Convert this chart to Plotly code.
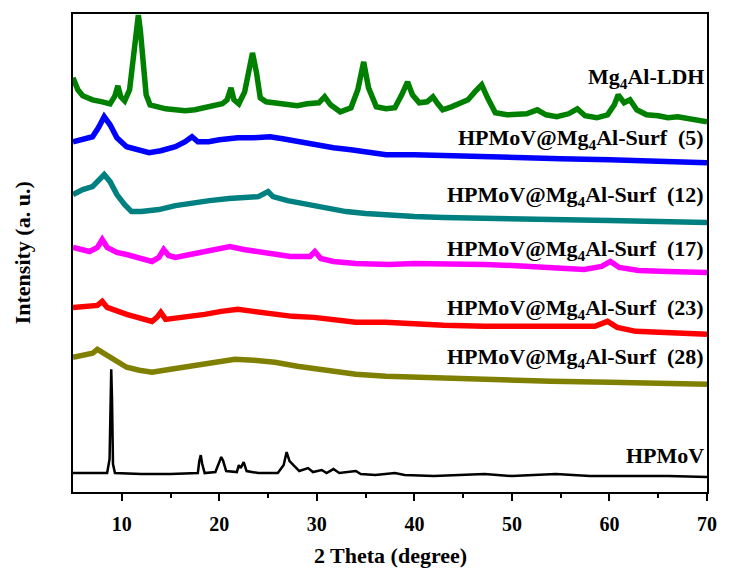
import plotly.graph_objects as go

# ---- data (2 Theta in degrees, intensity in arbitrary units incl. stacking offset) ----
ldh_x = [5.0, 5.5, 6.0, 7.0, 8.0, 8.8, 9.3, 9.6, 9.9, 10.3, 10.8, 11.2, 11.5, 11.7, 11.9, 12.2, 12.5, 12.9,
         13.5, 14.5, 15.5, 16.5, 17.5, 18.5, 19.5, 20.3, 20.8, 21.2, 21.5, 22.0, 22.6, 23.0, 23.4, 23.8,
         24.2, 24.8, 26.0, 27.0, 28.0, 29.0, 30.2, 30.8, 31.4, 32.4, 33.5, 34.2, 34.8, 35.3, 36.1, 37.1,
         38.0, 38.7, 39.3, 39.8, 40.5, 41.3, 41.9, 42.4, 42.9, 43.8, 44.8, 45.5, 46.2, 46.9, 47.5, 48.3,
         49.5, 50.5, 51.5, 52.6, 53.5, 54.6, 55.8, 56.7, 57.5, 58.7, 59.8, 60.5, 60.9, 61.5, 62.1, 62.8,
         63.8, 65.0, 66.0, 67.0, 68.0, 69.0, 70.0]
ldh_y = [415, 403, 397, 393, 391, 389, 397, 407, 396, 392, 403, 433, 463, 478, 463, 423, 398, 388,
         386, 384, 383, 382, 383, 385, 387, 389, 393, 405, 393, 389, 401, 421, 440, 421,
         395, 391, 390, 389, 387, 389, 390, 396, 388, 381, 385, 403, 431, 405, 386, 384,
         385, 398, 411, 398, 390, 391, 396, 389, 383, 386, 390, 393, 401, 408, 395, 380,
         378, 379, 379, 383, 378, 376, 379, 384, 377, 375, 378, 388, 398, 390, 393, 383,
         378, 377, 375, 376, 374, 372, 371]

s5_x = [5.0, 6.0, 7.0, 7.6, 8.2, 8.8, 9.5, 10.5, 11.5, 12.8, 14.0, 15.5, 16.5, 17.2, 17.8, 18.9, 20.0,
        21.9, 23.5, 25.2, 26.5, 28.0, 30.0, 31.7, 33.5, 35.8, 37.1, 40.0, 43.0, 47.2, 51.0, 55.0, 60.0,
        65.0, 70.0]
s5_y = [351, 353, 356, 365, 376, 368, 355, 346, 343, 340, 342, 346, 351, 356, 351, 351, 353,
        355, 355, 356, 354, 351, 348, 345, 343, 340, 338, 338, 337, 336, 335, 334, 333,
        332, 330]

s12_x = [5.0, 6.0, 7.0, 7.6, 8.2, 8.8, 9.5, 10.3, 11.0, 12.0, 13.8, 15.5, 17.2, 19.0, 21.0, 22.3, 24.0,
         25.0, 25.5, 27.0, 29.0, 31.0, 33.0, 35.0, 37.4, 40.0, 43.0, 47.0, 50.6, 55.0, 60.0, 65.0, 70.0]
s12_y = [298, 303, 306, 313, 318, 311, 298, 288, 281, 281, 283, 287, 290, 292, 294, 295, 296,
         301, 296, 292, 288, 284, 281, 279, 277, 276, 275, 274, 273, 272, 272, 271, 270]

s17_x = [5.0, 6.7, 7.5, 8.0, 8.5, 9.5, 10.5, 11.8, 13.1, 13.8, 14.3, 14.8, 15.5, 17.0, 18.2, 19.5, 21.1,
         22.5, 24.0, 25.5, 27.3, 29.3, 29.8, 30.4, 31.7, 34.0, 37.4, 40.0, 43.0, 47.2, 50.0, 54.0, 57.4,
         59.2, 60.1, 61.0, 63.0, 66.0, 70.0]
s17_y = [245, 241, 245, 253, 245, 240, 238, 234, 231, 235, 243, 237, 235, 238, 240, 243, 246,
         243, 241, 239, 236, 236, 241, 234, 231, 229, 228, 229, 229, 228, 227, 225, 223,
         226, 231, 225, 222, 221, 220]

s23_x = [5.0, 6.5, 7.5, 8.0, 8.5, 10.5, 11.8, 13.1, 13.6, 14.0, 14.5, 16.5, 18.5, 20.2, 21.9, 23.5, 25.7,
         27.5, 29.7, 32.0, 34.0, 37.0, 40.0, 43.0, 47.2, 51.0, 55.8, 58.5, 59.8, 60.8, 62.7, 66.0, 70.0]
s23_y = [185, 186, 187, 191, 185, 178, 174, 171, 175, 180, 173, 175, 178, 181, 183, 181, 178,
         176, 175, 172, 170, 170, 168, 167, 166, 166, 165, 166, 171, 165, 161, 160, 158]

s28_x = [5.0, 6.0, 7.0, 7.5, 8.0, 8.6, 9.5, 10.5, 11.8, 13.1, 15.0, 17.2, 19.5, 21.6, 23.5, 25.7, 28.0,
         30.1, 32.0, 34.0, 37.1, 40.0, 44.0, 48.0, 54.0, 60.0, 65.0, 70.0]
s28_y = [135, 137, 139, 143, 140, 136, 130, 125, 122, 120, 123, 126, 130, 133, 132, 130, 126,
         123, 121, 118, 116, 115, 114, 113, 111, 110, 109, 108]

pom_x = [5.0, 8.5, 8.75, 8.85, 8.92, 9.0, 9.1, 9.3, 12.0, 15.0, 17.8, 17.95, 18.1, 18.25, 18.5, 19.6,
         19.9, 20.2, 20.4, 20.7, 21.8, 22.0, 22.2, 22.5, 22.8, 24.0, 26.0, 26.6, 26.9, 27.2, 27.7, 28.2,
         29.1, 29.6, 30.5, 31.0, 31.7, 32.3, 34.0, 34.5, 36.0, 38.0, 39.0, 42.0, 47.2, 50.0, 54.5, 58.0,
         62.0, 66.0, 70.0]
pom_y = [19, 19, 33, 93, 123, 93, 28, 19, 18, 18, 19, 31, 37, 28, 19, 20,
         28, 35, 31, 21, 20, 27, 24, 30, 21, 19, 19, 27, 40, 31, 26, 21,
         24, 20, 22, 19, 23, 19, 21, 18, 17, 19, 17, 16, 18, 16, 18, 16,
         16, 16, 15]

series = [
    ("Mg<sub>4</sub>Al-LDH", ldh_x, ldh_y, "#008000", 415, 5.5),
    ("HPMoV@Mg<sub>4</sub>Al-Surf&nbsp; (5)", s5_x, s5_y, "#0000FF", 354, 5.5),
    ("HPMoV@Mg<sub>4</sub>Al-Surf&nbsp; (12)", s12_x, s12_y, "#008080", 297, 5.5),
    ("HPMoV@Mg<sub>4</sub>Al-Surf&nbsp; (17)", s17_x, s17_y, "#FF00FF", 243, 5.5),
    ("HPMoV@Mg<sub>4</sub>Al-Surf&nbsp; (23)", s23_x, s23_y, "#FF0000", 183, 5.5),
    ("HPMoV@Mg<sub>4</sub>Al-Surf&nbsp; (28)", s28_x, s28_y, "#808000", 134, 5.5),
    ("HPMoV", pom_x, pom_y, "#000000", 37, 2.5),
]

FONT = "Liberation Serif, Times New Roman, serif"

fig = go.Figure()
for name, xs, ys, col, label_y, lw in series:
    fig.add_trace(go.Scatter(x=xs, y=ys, mode="lines", name=name,
                             line=dict(color=col, width=lw), showlegend=False))
    fig.add_annotation(x=69.85, y=label_y, xref="x", yref="y", xanchor="right", yanchor="middle",
                       text="<b>" + name + "</b>", showarrow=False,
                       font=dict(family=FONT, size=22, color="black"))

fig.add_annotation(x=0.5, y=-0.1336, xref="paper", yref="paper", xanchor="center", yanchor="middle",
                   text="<b>2 Theta (degree)</b>", showarrow=False,
                   font=dict(family=FONT, size=22, color="black"))
fig.add_annotation(x=-0.080, y=0.5, xref="paper", yref="paper", xanchor="center", yanchor="middle",
                   text="<b>Intensity (a. u.)</b>", showarrow=False, textangle=-90,
                   font=dict(family=FONT, size=22, color="black"))

fig.update_layout(
    width=729, height=572,
    margin=dict(l=73, r=15, t=14, b=80),
    paper_bgcolor="white", plot_bgcolor="white",
    font=dict(family=FONT, color="black"),
)
fig.update_xaxes(range=[5, 70], tickvals=[10, 20, 30, 40, 50, 60, 70],
                 ticktext=["<b>10</b>", "<b>20</b>", "<b>30</b>", "<b>40</b>", "<b>50</b>", "<b>60</b>", "<b>70</b>"],
                 ticks="outside", ticklen=7, tickwidth=2, tickcolor="black",
                 minor=dict(tickvals=[15, 25, 35, 45, 55, 65], ticks="outside", ticklen=4, tickwidth=2, tickcolor="black"),
                 showline=True, linewidth=2, linecolor="black", mirror=True,
                 showgrid=False, zeroline=False, ticklabelstandoff=6,
                 tickfont=dict(family=FONT, size=20, color="black"))
fig.update_yaxes(range=[0, 479], showticklabels=False, ticks="",
                 showline=True, linewidth=2, linecolor="black", mirror=True,
                 showgrid=False, zeroline=False)

fig.write_html("out.html")
